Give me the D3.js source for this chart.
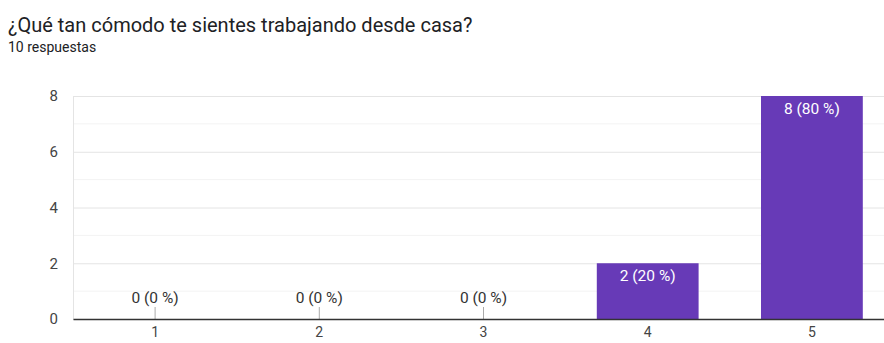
<!DOCTYPE html>
<html>
<head>
<meta charset="utf-8">
<script src="https://cdn.jsdelivr.net/npm/d3@7"></script>
<style>
  body { margin: 0; background: #fff; }
  svg { display: block; font-family: Roboto, Arial, sans-serif; }
</style>
</head>
<body>
<div id="chart"></div>
<script>
const titleText = "¿Qué tan cómodo te sientes trabajando desde casa?";
const subtitleText = "10 respuestas";
const categories = ["1", "2", "3", "4", "5"];
const counts = [0, 0, 0, 2, 8];
const percents = [0, 0, 0, 20, 80];
const yTicks = [0, 2, 4, 6, 8];
const yMinorTicks = [1, 3, 5, 7];

const data = categories.map((c, i) => ({ cat: c, count: counts[i], pct: percents[i] }));

const width = 884;
const height = 343;
const margin = { top: 96, right: -10, bottom: 24, left: 73 };
const innerW = width - margin.left - margin.right;
const innerH = height - margin.top - margin.bottom;

const svg = d3.select("#chart").append("svg")
  .attr("width", width)
  .attr("height", height);

// title and subtitle
svg.append("text")
  .attr("x", 8).attr("y", 32)
  .attr("font-size", "20px")
  .attr("fill", "#202124")
  .text(titleText);
svg.append("text")
  .attr("x", 8).attr("y", 52)
  .attr("font-size", "14px")
  .attr("fill", "#202124")
  .text(subtitleText);

const bounds = svg.append("g")
  .attr("transform", `translate(${margin.left},${margin.top})`);

const xScale = d3.scaleBand()
  .domain(categories)
  .range([0, innerW])
  .paddingInner(0.38)
  .paddingOuter(0.19);

const yScale = d3.scaleLinear()
  .domain([0, 8])
  .range([innerH, 0]);

// minor gridlines
bounds.append("g").selectAll("line")
  .data(yMinorTicks)
  .join("line")
  .attr("x1", 0).attr("x2", innerW)
  .attr("y1", d => yScale(d)).attr("y2", d => yScale(d))
  .attr("stroke", "#f3f3f3");

// major gridlines + y labels
const yAxis = bounds.append("g")
  .call(d3.axisLeft(yScale).tickValues(yTicks).tickSize(-innerW).tickPadding(15));
yAxis.select(".domain").remove();
yAxis.selectAll(".tick line").attr("stroke", "#e4e4e4");
yAxis.selectAll(".tick text")
  .attr("font-size", "15px")
  .attr("fill", "#444")
  .style("font-family", "Roboto, Arial, sans-serif");

// left edge line
bounds.append("line")
  .attr("x1", 0.5).attr("x2", 0.5)
  .attr("y1", 0).attr("y2", innerH)
  .attr("stroke", "#e4e4e4");

// bars
bounds.append("g").selectAll("rect")
  .data(data.filter(d => d.count > 0))
  .join("rect")
  .attr("x", d => xScale(d.cat))
  .attr("y", d => yScale(d.count))
  .attr("width", xScale.bandwidth())
  .attr("height", d => innerH - yScale(d.count))
  .attr("fill", "#673ab7");

// zero stubs
bounds.append("g").selectAll("line")
  .data(data.filter(d => d.count === 0))
  .join("line")
  .attr("x1", d => xScale(d.cat) + xScale.bandwidth() / 2)
  .attr("x2", d => xScale(d.cat) + xScale.bandwidth() / 2)
  .attr("y1", innerH - 12).attr("y2", innerH)
  .attr("stroke", "#aaa");

// value labels
bounds.append("g").selectAll("text")
  .data(data)
  .join("text")
  .attr("x", d => xScale(d.cat) + xScale.bandwidth() / 2)
  .attr("y", d => d.count > 0 ? yScale(d.count) + 18 : innerH - 16)
  .attr("text-anchor", "middle")
  .attr("font-size", "15.5px")
  .attr("fill", d => d.count > 0 ? "#fff" : "#333")
  .text(d => `${d.count} (${d.pct} %)`);

// x axis
const xAxis = bounds.append("g")
  .attr("transform", `translate(0,${innerH})`)
  .call(d3.axisBottom(xScale).tickSize(0).tickPadding(8));
xAxis.select(".domain").attr("stroke", "#333").attr("stroke-width", 1.5);
xAxis.selectAll(".tick text")
  .attr("font-size", "14px")
  .attr("fill", "#444")
  .style("font-family", "Roboto, Arial, sans-serif");
</script>
</body>
</html>
